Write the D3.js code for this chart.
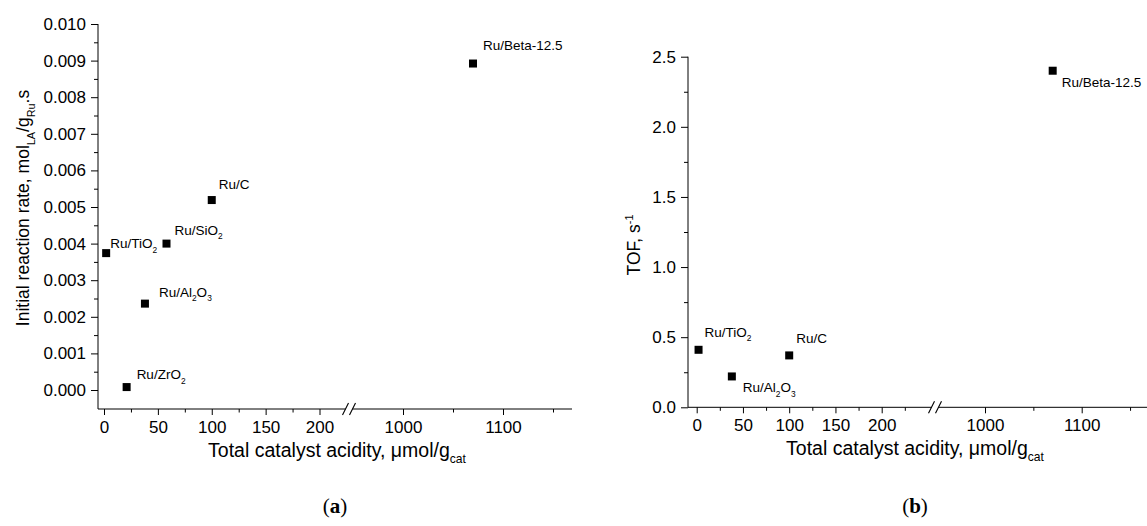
<!DOCTYPE html>
<html><head><meta charset="utf-8">
<script src="https://cdn.jsdelivr.net/npm/d3@7"></script>
<style>
body{margin:0;background:#fff}
svg{display:block}
text{font-family:"Liberation Sans",Arial,sans-serif;fill:#000}
</style>
</head><body>
<svg id="c" width="1147" height="526"></svg>
<script>
// ---------- data ----------
const catalystsA = ["Ru/TiO_{2}", "Ru/SiO_{2}", "Ru/Al_{2}O_{3}", "Ru/ZrO_{2}", "Ru/C", "Ru/Beta-12.5"];
const acidityA   = [2, 58, 38, 21, 100, 1070];
const rateA      = [0.00374, 0.00400, 0.00236, 0.00008, 0.00519, 0.00892];

const catalystsB = ["Ru/TiO_{2}", "Ru/Al_{2}O_{3}", "Ru/C", "Ru/Beta-12.5"];
const acidityB   = [2, 38, 100, 1070];
const tofB       = [0.41, 0.22, 0.37, 2.40];

const xTicksLow    = [0, 50, 100, 150, 200];
const xMinorLow    = [25, 75, 125, 175, 225];
const xTicksHigh   = [1000, 1100];
const xMinorHigh   = [1050, 1150];
const yTicksA      = [0.000, 0.001, 0.002, 0.003, 0.004, 0.005, 0.006, 0.007, 0.008, 0.009, 0.010];
const yTicksB      = [0.0, 0.5, 1.0, 1.5, 2.0, 2.5];

const xTitle  = "Total catalyst acidity, \u03bcmol/g_{cat}";
const yTitleA = "Initial reaction rate, mol_{LA}/g_{Ru}.s";
const yTitleB = "TOF, s^{-1}";

// ---------- layout (positions only) ----------
const svg = d3.select("#c");

// label offsets relative to marker centre (dx, dy of baseline)
const offA = [[4,-5],[8,-9],[14,-7],[10,-8],[7,-11],[10,-14]];
const offB = [[6,-13],[11,16],[7,-12],[9,16]];

function rich(sel, str, size) {
  const parts = str.split(/(_\{[^}]*\}|\^\{[^}]*\})/).filter(s => s.length);
  let shift = 0;
  parts.forEach(p => {
    let t = p, target = 0, fs = size;
    if (p.startsWith("_{")) { t = p.slice(2,-1); target = size*0.33; fs = size*0.62; }
    else if (p.startsWith("^{")) { t = p.slice(2,-1); target = -size*0.42; fs = size*0.62; }
    sel.append("tspan").attr("dy", target - shift).style("font-size", fs + "px").text(t);
    shift = target;
  });
}

function panel(cfg) {
  const g = svg.append("g");
  const xLo = d3.scaleLinear().domain([0,200]).range(cfg.xLoRange);
  const xHi = d3.scaleLinear().domain([1000,1100]).range(cfg.xHiRange);
  const y = d3.scaleLinear().domain(cfg.yDomain).range(cfg.yRange);
  const xs = v => v < 600 ? xLo(v) : xHi(v);

  // y axis
  const ya = g.append("g").attr("transform", `translate(${cfg.axisX},0)`);
  ya.call(d3.axisLeft(y).tickValues(cfg.yTicks).tickSize(7).tickPadding(5).tickFormat(d3.format(cfg.yFmt)).tickSizeOuter(0));
  ya.select(".domain").remove();
  const yMinor = [];
  for (let i = 0; i < cfg.yTicks.length - 1; i++) yMinor.push((cfg.yTicks[i] + cfg.yTicks[i+1]) / 2);
  const ym = g.append("g").attr("transform", `translate(${cfg.axisX},0)`);
  ym.call(d3.axisLeft(y).tickValues(yMinor).tickSize(4).tickFormat(""));
  ym.select(".domain").remove();
  g.append("line").attr("x1", cfg.axisX).attr("x2", cfg.axisX).attr("y1", cfg.axisY).attr("y2", cfg.yTop).attr("stroke", "#000");

  // x axis, two segments
  [[xLo, xTicksLow, xMinorLow.filter(v => xLo(v) < cfg.breakX - 4)], [xHi, xTicksHigh, xMinorHigh.filter(v => xHi(v) < cfg.xEnd)]].forEach(([sc, tv, mv]) => {
    const a = g.append("g").attr("transform", `translate(0,${cfg.axisY})`);
    a.call(d3.axisBottom(sc).tickValues(tv).tickSize(6).tickPadding(6).tickFormat(d3.format("d")));
    a.select(".domain").remove();
    const m = g.append("g").attr("transform", `translate(0,${cfg.axisY})`);
    m.call(d3.axisBottom(sc).tickValues(mv).tickSize(3.5).tickFormat(""));
    m.select(".domain").remove();
  });
  g.selectAll(".tick text").style("font-size", "17px").style("font-family", "'Liberation Sans', Arial, sans-serif");
  g.selectAll(".tick line").attr("stroke", "#000");
  g.append("line").attr("x1", cfg.axisX).attr("x2", cfg.breakX - 3.5).attr("y1", cfg.axisY).attr("y2", cfg.axisY).attr("stroke", "#000");
  g.append("line").attr("x1", cfg.breakX + 3.5).attr("x2", cfg.xEnd).attr("y1", cfg.axisY).attr("y2", cfg.axisY).attr("stroke", "#000");
  [-3.5, 3.5].forEach(d => {
    g.append("line").attr("x1", cfg.breakX + d - 3).attr("x2", cfg.breakX + d + 3)
      .attr("y1", cfg.axisY + 6).attr("y2", cfg.axisY - 6).attr("stroke", "#000").attr("stroke-width", 1.1);
  });

  // markers
  g.selectAll("rect.pt").data(cfg.xv).join("rect").attr("class", "pt")
    .attr("x", d => xs(d) - 4).attr("y", (d, i) => y(cfg.yv[i]) - 4)
    .attr("width", 8).attr("height", 8).attr("fill", "#000");
  // labels
  cfg.names.forEach((n, i) => {
    const t = g.append("text").attr("x", xs(cfg.xv[i]) + cfg.off[i][0]).attr("y", y(cfg.yv[i]) + cfg.off[i][1]).style("font-size", "13.5px");
    rich(t, n, 13.5);
  });

  // titles
  const xt = g.append("text").attr("x", cfg.xTitleX).attr("y", cfg.xTitleY).attr("text-anchor", "middle").style("font-size", "19.5px");
  rich(xt, xTitle, 19.5);
  const yt = g.append("text").attr("transform", `translate(${cfg.yTitleX},${cfg.yTitleY}) rotate(-90)`).attr("text-anchor", "middle").style("font-size", "17.5px");
  rich(yt, cfg.yTitle, 17.5);

  // panel tag
  const tg = g.append("text").attr("x", cfg.tagX).attr("y", 513).attr("text-anchor", "middle")
    .style("font-family", "'Liberation Serif', 'DejaVu Serif', serif").style("font-size", "21px");
  tg.append("tspan").text("(");
  tg.append("tspan").style("font-weight", "bold").text(cfg.tag);
  tg.append("tspan").text(")");
}

panel({
  xLoRange: [104, 319.5], xHiRange: [403, 503],
  yDomain: [0, 0.010], yRange: [390, 24], yTicks: yTicksA, yFmt: ".3f",
  axisX: 98, axisY: 409, yTop: 24, breakX: 349, xEnd: 572,
  xv: acidityA, yv: rateA, names: catalystsA, off: offA,
  xTitleX: 337, xTitleY: 457, yTitleX: 29, yTitleY: 208, yTitle: yTitleA,
  tagX: 335, tag: "a"
});
panel({
  xLoRange: [696.7, 881.7], xHiRange: [985, 1081.7],
  yDomain: [0, 2.5], yRange: [407.3, 56.7], yTicks: yTicksB, yFmt: ".1f",
  axisX: 688, axisY: 407.3, yTop: 56.7, breakX: 935, xEnd: 1147,
  xv: acidityB, yv: tofB, names: catalystsB, off: offB,
  xTitleX: 915, xTitleY: 455, yTitleX: 640, yTitleY: 245, yTitle: yTitleB,
  tagX: 915, tag: "b"
});
</script>
</body></html>
